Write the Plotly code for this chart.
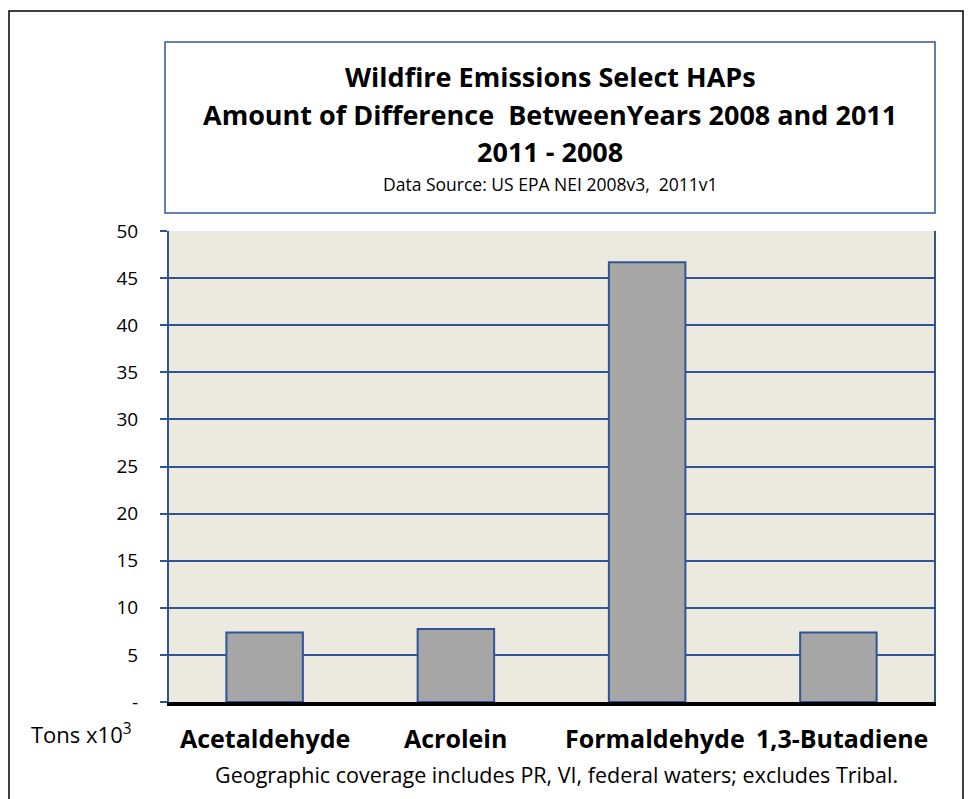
import plotly.graph_objects as go

categories = ["Acetaldehyde", "Acrolein", "Formaldehyde", "1,3-Butadiene"]
values = [7.38, 7.74, 46.68, 7.38]
y_tick_vals = [0, 5, 10, 15, 20, 25, 30, 35, 40, 45, 50]
y_tick_text = ["-", "5", "10", "15", "20", "25", "30", "35", "40", "45", "50"]
label_shift = [0, 0, 8, 4]

# screen-space layout (page body has an 8px margin)
OFF = 8
SX0, SX1, SY0, SY1 = 169, 934, 231, 702
W, H = 973 - OFF, 799 - OFF
L, R, T, B = SX0 - OFF, 973 - SX1, SY0 - OFF, 799 - SY1
PW, PH = SX1 - SX0, SY1 - SY0

def px(x):
    return (x - SX0) / PW

def py(y):
    return (SY1 - y) / PH

BLUE = "#2F5597"
FONT = "Open Sans"

fig = go.Figure()
fig.add_trace(go.Bar(
    x=categories, y=values, width=0.4,
    marker=dict(color="#A6A6A6", line=dict(color=BLUE, width=2)),
    hoverinfo="x+y",
))

shapes = [
    dict(type="rect", xref="paper", yref="paper", x0=px(9), x1=px(963), y0=py(840), y1=py(11),
         line=dict(color="black", width=1.5), fillcolor="rgba(0,0,0,0)", layer="below"),
    dict(type="rect", xref="paper", yref="paper", x0=px(165), x1=px(935), y0=py(213), y1=py(42),
         line=dict(color=BLUE, width=1.5), fillcolor="white", layer="below"),
]

annotations = [
    dict(text="<b>Wildfire Emissions Select HAPs</b>", x=px(550), y=py(76), font=dict(size=27)),
    dict(text="<b>Amount of Difference  BetweenYears 2008 and 2011</b>", x=px(550), y=py(114), font=dict(size=27)),
    dict(text="<b>2011 - 2008</b>", x=px(550), y=py(151), font=dict(size=27)),
    dict(text="Data Source: US EPA NEI 2008v3,  2011v1", x=px(550), y=py(184), font=dict(size=17.5)),
    dict(text="Tons x10<sup>3</sup>", x=px(81), y=py(733), font=dict(size=22)),
    dict(text="Geographic coverage includes PR, VI, federal waters; excludes Tribal.", x=px(556), y=py(774), font=dict(size=21.5)),
]
for a in annotations:
    a.update(xref="paper", yref="paper", showarrow=False, xanchor="center", yanchor="middle")
    a["font"].update(family=FONT, color="black")

for cat, s in zip(categories, label_shift):
    annotations.append(dict(text=f"<b>{cat}</b>", x=cat, y=py(738), xref="x", yref="paper",
                            xshift=s, showarrow=False, xanchor="center", yanchor="middle",
                            font=dict(family=FONT, size=25, color="black")))

fig.update_layout(
    width=W, height=H,
    margin=dict(l=L, r=R, t=T, b=B, pad=0),
    paper_bgcolor="white", plot_bgcolor="#ECE9DF",
    showlegend=False, shapes=shapes, annotations=annotations,
    font=dict(family=FONT, color="black"),
    bargap=0.6,
)
fig.update_yaxes(
    range=[0, 50], tickvals=y_tick_vals, ticktext=y_tick_text,
    ticks="outside", ticklen=7, tickcolor=BLUE, tickwidth=2,
    showline=True, linecolor=BLUE, linewidth=2, mirror=True,
    showgrid=True, gridcolor=BLUE, gridwidth=1.5, zeroline=False,
    tickfont=dict(size=19, family=FONT, color="black"), ticklabelstandoff=18,
    fixedrange=True,
)
fig.update_xaxes(
    showticklabels=False, ticks="", showline=True, linecolor="black", linewidth=4,
    showgrid=False, fixedrange=True,
)

fig.write_html("out.html")
